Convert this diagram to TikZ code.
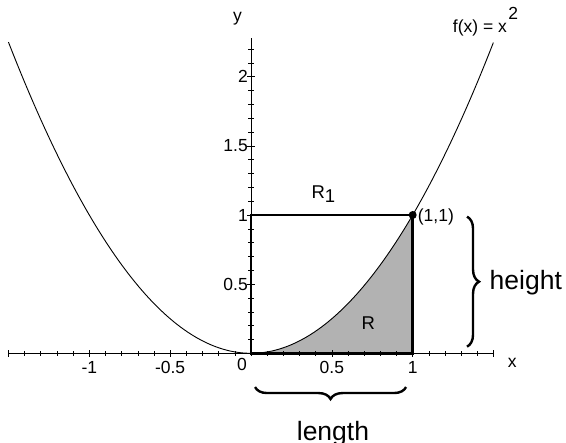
\documentclass[tikz,border=0pt]{standalone}
\usepackage{fontspec}
\setmainfont{Liberation Sans}
\usetikzlibrary{decorations.pathreplacing,positioning}

\begin{document}
\begin{tikzpicture}[
   x=161.7bp, y=138.3bp,
   lbl/.style={font=\fontsize{17.5bp}{19bp}\selectfont,inner sep=0pt},
   reg/.style={font=\fontsize{18.5bp}{20bp}\selectfont,inner sep=0pt},
   big/.style={font=\fontsize{26.5bp}{28bp}\selectfont,inner sep=0pt},
   axis/.style={line width=0.8bp},
   tck/.style={line width=0.6bp},
   edge/.style={line width=2.7bp,line join=miter},
   curve/.style={line width=0.9bp},
   brc/.style={decorate,decoration={brace,amplitude=12bp},line width=2.4bp}
  ]
  \useasboundingbox (-251bp,-89.7bp) rectangle (315bp,353.3bp);

  \coordinate (o)  at (0,0);
  \coordinate (xl) at (-1.5,0);
  \coordinate (xr) at (1.5,0);
  \coordinate (yt) at (0,2.28);
  \coordinate (p)  at (1,1);
  \coordinate (q)  at (1,0);
  \coordinate (s)  at (0,1);

  \fill[black!30] (o) -- plot[domain=0:1,samples=60] (\x,{\x*\x}) -- (q) -- cycle;

  \draw[axis] (xl) -- (xr);
  \draw[axis] (o) -- (yt);
  \foreach \i in {-15,...,15} \draw[tck] (\i/10,0) ++(0,-2.5bp) -- ++(0,5bp);
  \foreach \i in {-15,-10,-5,5,10,15} \draw[tck] (\i/10,0) ++(0,-3.5bp) -- ++(0,7bp);
  \foreach \i in {1,...,22} \draw[tck] (0,\i/10) ++(-2.5bp,0) -- ++(5bp,0);
  \foreach \i in {5,10,15,20} \draw[tck] (0,\i/10) ++(-3.5bp,0) -- ++(7bp,0);

  \draw[curve] plot[domain=-1.5:1.5,samples=150] (\x,{\x*\x});

  \draw[edge] (o) -- (s) -- (p) -- (q) -- cycle;
  \fill (p) circle (4bp);

  \node[lbl,anchor=north] (xa) at (-1,-8bp)   {-1};
  \node[lbl,anchor=north] (xb) at (-0.5,-8bp) {-0.5};
  \node[lbl,anchor=north east] (xc) at (-4bp,-5bp) {0};
  \node[lbl,anchor=north] (xd) at (0.5,-8bp)  {0.5};
  \node[lbl,anchor=north] (xe) at (1,-8bp)    {1};

  \node[lbl,anchor=east] (ya) at (-3bp,0.5) {0.5};
  \node[lbl,anchor=east] (yb) at (-3bp,1)   {1};
  \node[lbl,anchor=east] (yc) at (-3bp,1.5) {1.5};
  \node[lbl,anchor=east] (yd) at (-3bp,2)   {2};

  \node[lbl,below right=5bp and 14bp of xr] (xlab) {x};
  \node[lbl,above left=13bp and 9bp of yt]  (ylab) {y};

  \node[lbl] (flab) at (1.416,2.352) {f(x) = x};
  \node[lbl,anchor=west] (fexp) at ([xshift=1bp,yshift=15bp]flab.east) {2};

  \node[reg,anchor=base] (rone) at (0.448,1.121) {R\raisebox{-0.45ex}{1}};
  \node[reg,anchor=base] (rr)   at (0.725,0.169) {R};
  \node[lbl,right=5bp of p,yshift=-2bp] (plab) {(1,1)};

  \coordinate (bt) at (1.336,0.988);
  \coordinate (bb) at (1.336,0.048);
  \coordinate (bl) at (0.025,-0.244);
  \coordinate (br) at (0.959,-0.244);
  \draw[brc] (bt) -- (bb);
  \draw[brc] (br) -- (bl);

  \node[big,anchor=base west] (hgt) at (1.475,0.463) {height};
  \node[big,anchor=base] (len) at (0.507,-0.627) {length};
\end{tikzpicture}
\end{document}
